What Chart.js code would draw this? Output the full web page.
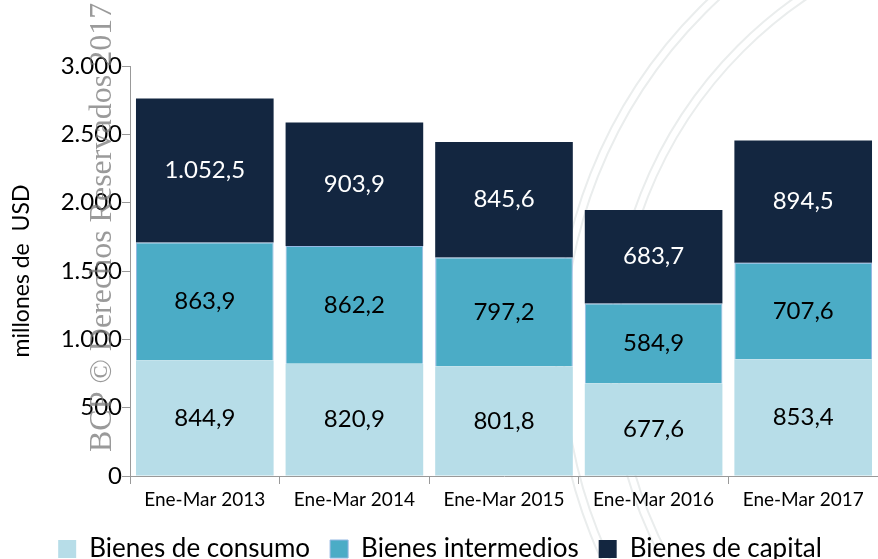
<!DOCTYPE html>
<html>
<head>
<meta charset="utf-8">
<script src="https://cdn.jsdelivr.net/npm/chart.js@4/dist/chart.umd.min.js"></script>
<style>
  html, body { margin: 0; padding: 0; background: #fff; }
  #wrap { width: 878px; height: 559px; position: relative; }
</style>
</head>
<body>
<div id="wrap"><canvas id="myChart"></canvas></div>
<script>
const categories = ['Ene-Mar 2013', 'Ene-Mar 2014', 'Ene-Mar 2015', 'Ene-Mar 2016', 'Ene-Mar 2017'];
const consumo = [844.9, 820.9, 801.8, 677.6, 853.4];
const intermedios = [863.9, 862.2, 797.2, 584.9, 707.6];
const capital = [1052.5, 903.9, 845.6, 683.7, 894.5];
const yTicks = [0, 500, 1000, 1500, 2000, 2500, 3000];

const FONT = 'Lato, "Open Sans", sans-serif';

// 1052.5 -> "1.052,5"
function fmt(v, dec) {
  const parts = v.toFixed(dec).split('.');
  parts[0] = parts[0].replace(/\B(?=(\d{3})+(?!\d))/g, '.');
  return parts.join(',');
}

const valueLabels = {
  id: 'valueLabels',
  afterDatasetsDraw(chart) {
    const ctx = chart.ctx;
    ctx.save();
    ctx.font = '24px ' + FONT;
    ctx.textAlign = 'center';
    ctx.textBaseline = 'middle';
    chart.data.datasets.forEach((ds, i) => {
      const meta = chart.getDatasetMeta(i);
      meta.data.forEach((bar, j) => {
        ctx.fillStyle = ds.labelColor;
        ctx.fillText(fmt(ds.data[j], 1), bar.x, (bar.y + bar.base) / 2);
      });
    });
    ctx.restore();
  }
};

// faint seal in the background
const seal = {
  id: 'seal',
  beforeDraw(chart) {
    const ctx = chart.ctx;
    ctx.save();
    ctx.strokeStyle = '#eaeded';
    ctx.lineWidth = 2;
    [490, 482, 436, 428].forEach(r => {
      ctx.beginPath();
      ctx.arc(1046, 354, r, 0, Math.PI * 2);
      ctx.stroke();
    });
    ctx.restore();
  }
};

const watermark = {
  id: 'watermark',
  afterDraw(chart) {
    const ctx = chart.ctx;
    ctx.save();
    ctx.translate(111, 452);
    ctx.rotate(-Math.PI / 2);
    ctx.font = '32px "Liberation Serif", "DejaVu Serif", serif';
    ctx.fillStyle = 'rgba(120,120,120,0.75)';
    ctx.textBaseline = 'alphabetic';
    ctx.fillText('BCP © Derechos Reservados 2017', 0, 0);
    ctx.restore();
  }
};

const ctx = document.getElementById('myChart').getContext('2d');
new Chart(ctx, {
  type: 'bar',
  data: {
    labels: categories,
    datasets: [
      { label: 'Bienes de consumo', data: consumo, backgroundColor: '#b7dde8', borderColor: '#b7dde8', borderWidth: 0, labelColor: '#000' },
      { label: 'Bienes intermedios', data: intermedios, backgroundColor: '#4bacc6', borderColor: '#95b8e3', borderWidth: 1, labelColor: '#000' },
      { label: 'Bienes de capital', data: capital, backgroundColor: '#132640', borderColor: '#132640', borderWidth: 0, labelColor: '#fff' }
    ]
  },
  options: {
    responsive: true,
    maintainAspectRatio: false,
    animation: false,
    layout: { padding: { top: 66, right: -2, left: 0, bottom: -13 } },
    datasets: { bar: { barPercentage: 0.92, categoryPercentage: 1 } },
    plugins: {
      tooltip: { enabled: false },
      legend: {
        position: 'bottom',
        labels: {
          font: { family: FONT, size: 26 },
          color: '#000',
          boxWidth: 18,
          boxHeight: 18,
          padding: 20
        }
      }
    },
    scales: {
      x: {
        stacked: true,
        grid: { drawOnChartArea: false, color: '#999', tickLength: 8 },
        border: { color: '#999' },
        ticks: { font: { family: FONT, size: 19 }, color: '#000', padding: 4 },
        afterFit(s) { s.height = 40; }
      },
      y: {
        stacked: true,
        min: 0,
        max: 3000,
        afterBuildTicks(s) { s.ticks = yTicks.map(v => ({ value: v })); },
        grid: { drawOnChartArea: false, color: '#999', tickLength: 8 },
        border: { color: '#999' },
        ticks: {
          font: { family: FONT, size: 24 },
          color: '#000',
          padding: 0,
          callback: v => fmt(v, 0)
        },
        title: {
          display: true,
          text: 'millones de  USD',
          font: { family: FONT, size: 23 },
          color: '#000',
          padding: { top: 8, bottom: 0 }
        },
        afterFit(s) { s.width = 130; }
      }
    }
  },
  plugins: [seal, valueLabels, watermark]
});
</script>
</body>
</html>
